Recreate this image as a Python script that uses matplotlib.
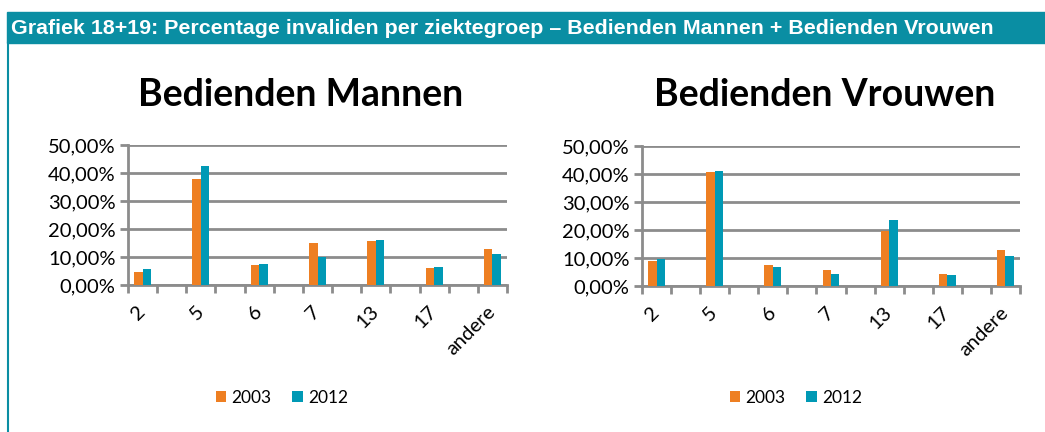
import numpy as np
import matplotlib.pyplot as plt
from matplotlib.patches import Rectangle
from matplotlib.lines import Line2D

# Data (fraction of invalids per disease group)
categories = ["2", "5", "6", "7", "13", "17", "andere"]
years = ["2003", "2012"]

mannen_2003 = [4.8, 37.9, 7.0, 14.9, 15.6, 6.1, 13.0]
mannen_2012 = [5.6, 42.6, 7.4, 10.1, 16.2, 6.5, 11.1]

vrouwen_2003 = [8.9, 40.7, 7.6, 5.7, 19.6, 4.3, 12.7]
vrouwen_2012 = [9.5, 40.9, 6.9, 4.3, 23.5, 3.9, 10.8]

header = "Grafiek 18+19: Percentage invaliden per ziektegroep \u2013 Bedienden Mannen + Bedienden Vrouwen"
titles = ["Bedienden Mannen", "Bedienden Vrouwen"]

orange = "#ee7f22"
teal = "#0099b5"
band = "#0a8ea3"
grey = "#8c8c8c"
font = "Lato"

fig = plt.figure(figsize=(10.45, 4.32), dpi=100)

# header band + left border
fig.patches.append(Rectangle((7 / 1045, 1 - 43 / 432), 1, 31 / 432,
                             transform=fig.transFigure, color=band, zorder=0))
fig.lines.append(Line2D([7.5 / 1045, 7.5 / 1045], [0, 1 - 43 / 432],
                        transform=fig.transFigure, color=band, lw=1.5))
fig.text(11 / 1045, 1 - 28 / 432, header, color="white", fontsize=15.4,
         fontweight="bold", family="Liberation Sans", va="center", ha="left")


def draw(ax, v03, v12, title, title_x, legend_x):
    # Excel layout: 13 slots, bars in every other slot
    x = np.arange(len(categories)) * 2
    w = 0.29
    ax.bar(x - w / 2, v03, w, color=orange, label=years[0], zorder=3)
    ax.bar(x + w / 2, v12, w, color=teal, label=years[1], zorder=3)
    ax.set_xlim(-0.5, 12.5)
    ax.set_ylim(0, 50)
    ax.set_yticks(np.arange(0, 51, 10))
    ax.set_yticklabels([f"{v:.2f}%".replace(".", ",") for v in np.arange(0, 51, 10)],
                       family=font, fontsize=14.5)
    ax.yaxis.grid(True, color=grey, lw=2, zorder=0)
    ax.set_axisbelow(True)
    ax.tick_params(axis="y", length=6, width=2, color=grey, pad=3)
    ax.set_xticks(x)
    ax.set_xticklabels(categories, rotation=45, ha="right", va="center",
                       rotation_mode="anchor", family=font, fontsize=14.5)
    ax.tick_params(axis="x", which="major", length=0, pad=17)
    ax.set_xticks(np.arange(-0.5, 13, 1), minor=True)
    ax.tick_params(axis="x", which="minor", length=6, width=2, color=grey)
    for s in ["top", "right"]:
        ax.spines[s].set_visible(False)
    for s in ["left", "bottom"]:
        ax.spines[s].set_color(grey)
        ax.spines[s].set_linewidth(2)
    fig.text(title_x, 1 - 95 / 432, title, family=font, fontweight="bold",
             fontsize=27, ha="center", va="center")
    ax.legend(loc="center", bbox_to_anchor=(legend_x, 0.079),
              bbox_transform=fig.transFigure, ncol=2, frameon=False,
              handlelength=0.6, handleheight=0.6, handletextpad=0.3,
              columnspacing=1.2, prop={"family": font, "size": 12.5})


ax1 = fig.add_axes([128 / 1045, 1 - 285 / 432, 379 / 1045, 140 / 432])
draw(ax1, mannen_2003, mannen_2012, titles[0], 301 / 1045, 282 / 1045)

ax2 = fig.add_axes([642 / 1045, 1 - 286 / 432, 378 / 1045, 140 / 432])
draw(ax2, vrouwen_2003, vrouwen_2012, titles[1], 825 / 1045, 796 / 1045)

fig.savefig("out.png", dpi=100)
